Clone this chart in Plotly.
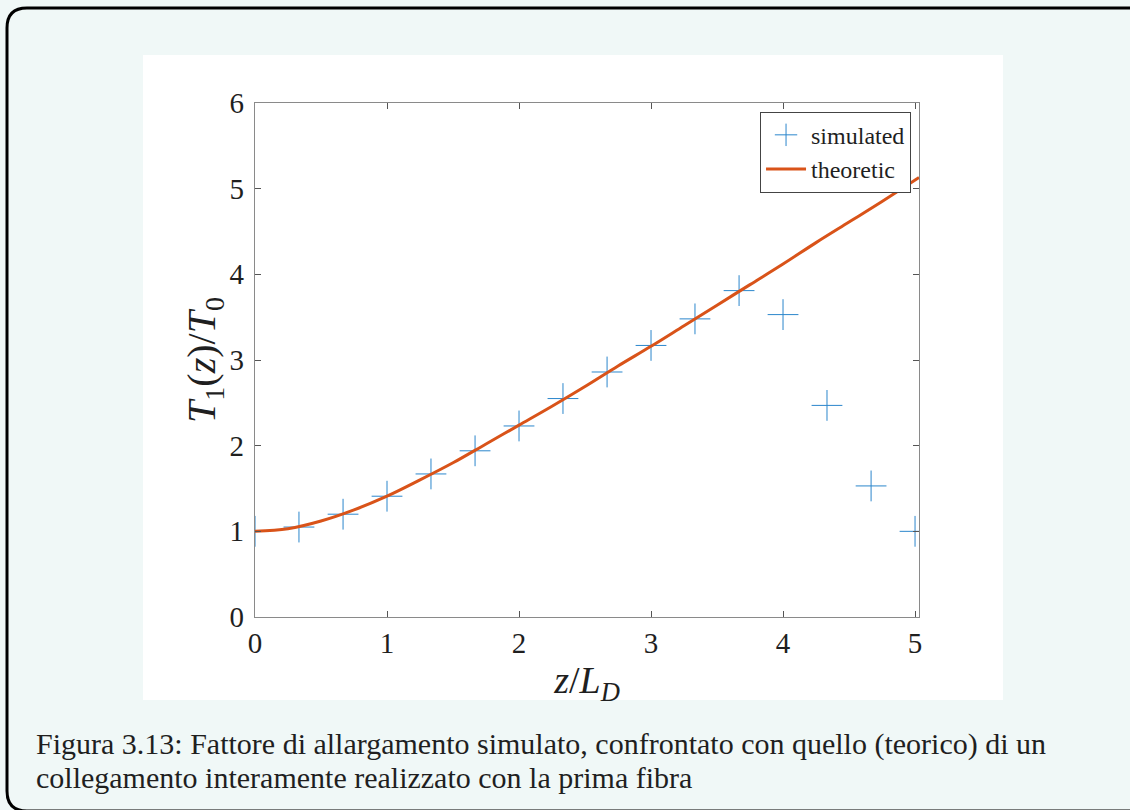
import plotly.graph_objects as go

# Normalised distance z/L_D of the simulated samples
z_sim = [0.0, 0.333, 0.667, 1.0, 1.333, 1.667, 2.0, 2.333, 2.667, 3.0,
         3.333, 3.667, 4.0, 4.333, 4.667, 5.0]
# Simulated broadening factor T1(z)/T0
t_sim = [1.0, 1.05, 1.2, 1.41, 1.67, 1.94, 2.23, 2.55, 2.86, 3.17,
         3.48, 3.81, 3.53, 2.47, 1.53, 1.0]

# Theoretic broadening curve
z_th = [0.0, 0.25, 0.5, 0.75, 1.0, 1.25, 1.5, 1.75, 2.0, 2.25, 2.5, 2.75,
        3.0, 3.25, 3.5, 3.75, 4.0, 4.25, 4.5, 4.75, 5.03]
t_th = [1.0, 1.03, 1.12, 1.25, 1.41, 1.60, 1.80, 2.02, 2.24, 2.46, 2.69, 2.93,
        3.16, 3.40, 3.64, 3.88, 4.12, 4.37, 4.61, 4.85, 5.13]

x_ticks = [0, 1, 2, 3, 4, 5]
y_ticks = [0, 1, 2, 3, 4, 5, 6]

caption_1 = "Figura 3.13: Fattore di allargamento simulato, confrontato con quello (teorico) di un"
caption_2 = "collegamento interamente realizzato con la prima fibra"

W, H = 1130, 810
L, R, T, B = 255, 919, 103, 617   # plot-area edges in pixels


def px(x):
    return (x - L) / (R - L)


def py(y):
    return (B - y) / (B - T)


SERIF = "Liberation Serif"
BLUE = "#2b86cc"
ORANGE = "#D95319"
AXIS = "#8a8a8a"
TEXT = "#1f1f1f"

fig = go.Figure()
fig.add_trace(go.Scatter(
    x=z_sim, y=t_sim, mode="markers", name="simulated",
    marker=dict(symbol="cross-thin", size=22, line=dict(color=BLUE, width=1)),
))
fig.add_trace(go.Scatter(
    x=z_th, y=t_th, mode="lines", name="theoretic",
    line=dict(color=ORANGE, width=3, shape="spline"),
))

# White figure area and rounded frame of the caption box
shapes = [
    dict(type="rect", xref="paper", yref="paper", layer="below",
         x0=px(143), x1=px(1003), y0=py(700), y1=py(55),
         fillcolor="white", line=dict(width=0)),
]
r = 20
x0, x1, y0, y1 = 7, 1150, 8, 811
path = (f"M {px(x0)},{py(y0 + r)} "
        f"Q {px(x0)},{py(y0)} {px(x0 + r)},{py(y0)} "
        f"L {px(x1 - r)},{py(y0)} "
        f"Q {px(x1)},{py(y0)} {px(x1)},{py(y0 + r)} "
        f"L {px(x1)},{py(y1 - r)} "
        f"Q {px(x1)},{py(y1)} {px(x1 - r)},{py(y1)} "
        f"L {px(x0 + r)},{py(y1)} "
        f"Q {px(x0)},{py(y1)} {px(x0)},{py(y1 - r)} Z")
shapes.append(dict(type="path", xref="paper", yref="paper", path=path,
                   line=dict(color="black", width=3), layer="below"))

annotations = [
    dict(text=caption_1, xref="paper", yref="paper", x=px(34), y=py(744),
         xanchor="left", yanchor="middle", showarrow=False,
         font=dict(family=SERIF, size=30, color=TEXT)),
    dict(text=caption_2, xref="paper", yref="paper", x=px(34), y=py(777),
         xanchor="left", yanchor="middle", showarrow=False,
         font=dict(family=SERIF, size=30, color=TEXT)),
]

axis_common = dict(
    showline=True, linecolor=AXIS, linewidth=1.3, mirror="ticks",
    ticks="inside", ticklen=6, tickcolor="#555555", tickwidth=1,
    showgrid=False, zeroline=False,
    tickfont=dict(family=SERIF, size=29, color=TEXT),
)

fig.update_layout(
    width=W, height=H,
    margin=dict(l=L, r=W - R, t=T, b=H - B),
    paper_bgcolor="#f0f8f7", plot_bgcolor="white",
    showlegend=True,
    legend=dict(x=0.988, y=0.983, xanchor="right", yanchor="top",
                bgcolor="white", bordercolor="#444444", borderwidth=1,
                font=dict(family=SERIF, size=24, color=TEXT),
                tracegroupgap=0, itemwidth=40),
    shapes=shapes, annotations=annotations,
)
fig.update_xaxes(range=[0, 5.03], tickvals=x_ticks, ticklabelstandoff=0,
                 title=dict(text="<i>z</i>/<i>L</i><sub><i>D</i></sub>",
                            font=dict(family=SERIF, size=38, color=TEXT),
                            standoff=8),
                 **axis_common)
fig.update_yaxes(range=[0, 6], tickvals=y_ticks, ticklabelstandoff=4,
                 title=dict(text="<i>T</i><sub>1</sub>(<i>z</i>)/<i>T</i><sub>0</sub>",
                            font=dict(family=SERIF, size=40, color=TEXT),
                            standoff=0),
                 **axis_common)

fig.write_html("out.html")
